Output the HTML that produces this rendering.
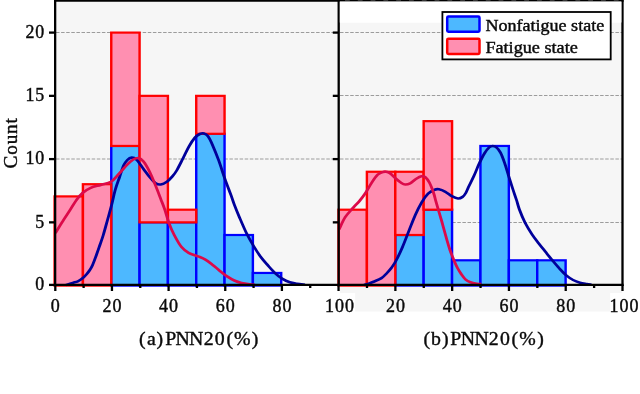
<!DOCTYPE html>
<html lang="en"><head><meta charset="utf-8"><title>PNN20 histograms</title>
<style>
html,body{margin:0;padding:0;background:#fff;}
body{width:640px;height:394px;overflow:hidden;}
svg{display:block;}
text{font-family:"Liberation Serif","DejaVu Serif",serif;fill:#0a0a0a;stroke:#0a0a0a;stroke-width:0.4px;}
</style></head><body>
<svg width="640" height="394" viewBox="0 0 640 394">
<rect x="0" y="0" width="640" height="394" fill="#ffffff"/>
<rect x="55" y="0" width="283.6" height="285" fill="#f6f6f6"/>
<rect x="338.6" y="22.5" width="284" height="262.5" fill="#f6f6f6"/>
<rect x="340" y="285" width="282" height="26.5" fill="#f6f6f6"/>
<line x1="56" x2="338" y1="159.0" y2="159.0" stroke="#9c9c9c" stroke-width="1" stroke-dasharray="3.5 1.6"/>
<line x1="56" x2="338" y1="32.5" y2="32.5" stroke="#9c9c9c" stroke-width="1" stroke-dasharray="3.5 1.6"/>
<line x1="340" x2="622" y1="222.5" y2="222.5" stroke="#9c9c9c" stroke-width="1" stroke-dasharray="3.5 1.6"/>
<line x1="340" x2="622" y1="159.0" y2="159.0" stroke="#9c9c9c" stroke-width="1" stroke-dasharray="3.5 1.6"/>
<line x1="340" x2="622" y1="95.5" y2="95.5" stroke="#9c9c9c" stroke-width="1" stroke-dasharray="3.5 1.6"/>
<line x1="340" x2="622" y1="32.5" y2="32.5" stroke="#9c9c9c" stroke-width="1" stroke-dasharray="3.5 1.6"/>
<g transform="scale(1.1 1)" stroke-width="2.2">
<rect x="101.14" y="145.95" width="25.75" height="139.65" fill="#4db8ff" stroke="#0000ff"/>
<rect x="126.89" y="222.35" width="25.75" height="63.25" fill="#4db8ff" stroke="#0000ff"/>
<rect x="152.64" y="222.35" width="25.75" height="63.25" fill="#4db8ff" stroke="#0000ff"/>
<rect x="178.39" y="133.80" width="25.75" height="151.80" fill="#4db8ff" stroke="#0000ff"/>
<rect x="204.14" y="235.00" width="25.75" height="50.60" fill="#4db8ff" stroke="#0000ff"/>
<rect x="229.89" y="272.95" width="25.75" height="12.65" fill="#4db8ff" stroke="#0000ff"/>
<rect x="49.64" y="196.40" width="25.75" height="89.20" fill="#ff8fb1" stroke="#ff0000"/>
<rect x="75.39" y="184.20" width="25.75" height="101.40" fill="#ff8fb1" stroke="#ff0000"/>
<rect x="101.14" y="32.60" width="25.75" height="113.35" fill="#ff8fb1" stroke="#ff0000"/>
<rect x="126.89" y="95.85" width="25.75" height="126.50" fill="#ff8fb1" stroke="#ff0000"/>
<rect x="152.64" y="209.70" width="25.75" height="12.65" fill="#ff8fb1" stroke="#ff0000"/>
<rect x="178.39" y="95.85" width="25.75" height="37.95" fill="#ff8fb1" stroke="#ff0000"/>
</g>
<g transform="scale(1.1 1)" stroke-width="2.2">
<rect x="359.35" y="235.00" width="25.81" height="50.60" fill="#4db8ff" stroke="#0000ff"/>
<rect x="385.15" y="209.70" width="25.81" height="75.90" fill="#4db8ff" stroke="#0000ff"/>
<rect x="410.96" y="260.30" width="25.81" height="25.30" fill="#4db8ff" stroke="#0000ff"/>
<rect x="436.77" y="145.95" width="25.81" height="139.65" fill="#4db8ff" stroke="#0000ff"/>
<rect x="462.58" y="260.30" width="25.81" height="25.30" fill="#4db8ff" stroke="#0000ff"/>
<rect x="488.39" y="260.30" width="25.81" height="25.30" fill="#4db8ff" stroke="#0000ff"/>
<rect x="307.73" y="209.70" width="25.81" height="75.90" fill="#ff8fb1" stroke="#ff0000"/>
<rect x="333.54" y="171.75" width="25.81" height="113.85" fill="#ff8fb1" stroke="#ff0000"/>
<rect x="359.35" y="171.75" width="25.81" height="63.25" fill="#ff8fb1" stroke="#ff0000"/>
<rect x="385.15" y="121.15" width="25.81" height="88.55" fill="#ff8fb1" stroke="#ff0000"/>
</g>
<path transform="scale(1.1 1)" d="M60.00 285.00C60.61 284.78 62.53 284.08 63.64 283.70C64.74 283.32 65.45 283.10 66.64 282.70C67.82 282.30 69.38 281.98 70.73 281.30C72.08 280.62 73.39 279.78 74.73 278.60C76.06 277.42 77.58 275.63 78.73 274.20C79.88 272.77 80.73 271.53 81.64 270.00C82.55 268.47 83.18 267.50 84.18 265.00C85.18 262.50 86.53 258.33 87.64 255.00C88.74 251.67 89.77 248.33 90.82 245.00C91.86 241.67 92.76 239.17 93.91 235.00C95.06 230.83 96.47 225.00 97.73 220.00C98.98 215.00 100.29 210.00 101.45 205.00C102.62 200.00 103.52 194.67 104.73 190.00C105.94 185.33 107.45 181.07 108.73 177.00C110.00 172.93 111.20 168.43 112.36 165.60C113.53 162.77 114.52 161.33 115.73 160.00C116.94 158.67 118.24 157.67 119.64 157.60C121.03 157.53 122.29 157.72 124.09 159.60C125.89 161.48 128.47 166.02 130.45 168.90C132.44 171.78 134.15 174.50 136.00 176.90C137.85 179.30 139.85 182.03 141.55 183.30C143.24 184.57 144.48 184.75 146.18 184.50C147.88 184.25 149.97 183.15 151.73 181.80C153.48 180.45 155.24 178.28 156.73 176.40C158.21 174.52 159.06 173.43 160.64 170.50C162.21 167.57 164.33 162.78 166.18 158.80C168.03 154.82 169.89 150.13 171.73 146.60C173.56 143.07 175.53 139.70 177.18 137.60C178.83 135.50 180.26 134.70 181.64 134.00C183.02 133.30 184.21 133.02 185.45 133.40C186.70 133.78 187.77 134.30 189.09 136.30C190.41 138.30 191.73 141.33 193.36 145.40C195.00 149.47 197.06 155.12 198.91 160.70C200.76 166.28 202.61 173.15 204.45 178.90C206.30 184.65 208.58 190.92 210.00 195.20C211.42 199.48 211.76 201.02 213.00 204.60C214.24 208.18 215.62 211.97 217.45 216.70C219.29 221.43 221.82 228.12 224.00 233.00C226.18 237.88 228.36 242.00 230.55 246.00C232.73 250.00 234.89 253.73 237.09 257.00C239.29 260.27 241.53 262.88 243.73 265.60C245.92 268.32 248.09 271.08 250.27 273.30C252.45 275.52 254.62 277.40 256.82 278.90C259.02 280.40 261.26 281.48 263.45 282.30C265.65 283.12 267.70 283.38 270.00 283.80C272.30 284.22 276.06 284.63 277.27 284.80" fill="none" stroke="#00009b" stroke-width="2.6" stroke-linecap="butt" stroke-linejoin="round"/>
<path transform="scale(1.1 1)" d="M50.45 233.00C51.44 231.22 54.12 226.20 56.36 222.30C58.61 218.40 61.73 213.30 63.91 209.60C66.09 205.90 67.61 202.87 69.45 200.10C71.30 197.33 72.83 195.03 75.00 193.00C77.17 190.97 79.68 189.25 82.45 187.90C85.23 186.55 88.56 185.92 91.64 184.90C94.71 183.88 98.14 183.67 100.91 181.80C103.68 179.93 105.82 176.57 108.27 173.70C110.73 170.83 113.48 166.97 115.64 164.60C117.79 162.23 119.48 160.60 121.18 159.50C122.88 158.40 124.27 157.67 125.82 158.00C127.36 158.33 128.76 159.22 130.45 161.50C132.15 163.78 134.15 167.63 136.00 171.70C137.85 175.77 139.85 181.33 141.55 185.90C143.24 190.47 144.82 195.18 146.18 199.10C147.55 203.02 148.44 205.27 149.73 209.40C151.02 213.53 152.48 219.67 153.91 223.90C155.33 228.13 156.45 230.98 158.27 234.80C160.09 238.62 162.62 243.80 164.82 246.80C167.02 249.80 168.89 251.20 171.45 252.80C174.02 254.40 177.64 255.27 180.18 256.40C182.73 257.53 184.53 258.18 186.73 259.60C188.92 261.02 191.17 263.02 193.36 264.90C195.56 266.78 197.73 268.98 199.91 270.90C202.09 272.82 204.27 274.80 206.45 276.40C208.64 278.00 210.80 279.40 213.00 280.50C215.20 281.60 217.26 282.35 219.64 283.00C222.02 283.65 225.24 284.10 227.27 284.40C229.30 284.70 231.06 284.73 231.82 284.80" fill="none" stroke="#dc0a4a" stroke-width="2.6" stroke-linecap="butt" stroke-linejoin="round"/>
<path transform="scale(1.1 1)" d="M330.91 285.00C331.59 284.77 333.55 284.15 335.00 283.60C336.45 283.05 337.67 282.62 339.64 281.70C341.61 280.78 344.79 279.55 346.82 278.10C348.85 276.65 350.27 274.77 351.82 273.00C353.36 271.23 354.73 269.53 356.09 267.50C357.45 265.47 358.39 264.13 360.00 260.80C361.61 257.47 363.80 252.40 365.73 247.50C367.65 242.60 369.59 236.78 371.55 231.40C373.50 226.02 375.48 220.05 377.45 215.20C379.42 210.35 381.41 205.90 383.36 202.30C385.32 198.70 387.23 195.70 389.18 193.60C391.14 191.50 393.45 190.42 395.09 189.70C396.73 188.98 397.36 188.95 399.00 189.30C400.64 189.65 402.95 190.65 404.91 191.80C406.86 192.95 408.82 195.08 410.73 196.20C412.64 197.32 414.73 198.38 416.36 198.50C418.00 198.62 419.36 197.82 420.55 196.90C421.73 195.98 422.56 194.65 423.45 193.00C424.35 191.35 424.67 189.87 425.91 187.00C427.15 184.13 429.29 179.70 430.91 175.80C432.53 171.90 434.06 167.32 435.64 163.60C437.21 159.88 438.85 156.20 440.36 153.50C441.88 150.80 443.45 148.65 444.73 147.40C446.00 146.15 446.91 146.00 448.00 146.00C449.09 146.00 450.11 146.30 451.27 147.40C452.44 148.50 453.77 150.07 455.00 152.60C456.23 155.13 457.41 158.73 458.64 162.60C459.86 166.47 461.11 171.40 462.36 175.80C463.62 180.20 464.98 184.97 466.18 189.00C467.38 193.03 468.55 196.58 469.55 200.00C470.55 203.42 470.88 205.70 472.18 209.50C473.48 213.30 475.45 218.67 477.36 222.80C479.27 226.93 481.56 230.87 483.64 234.30C485.71 237.73 487.74 240.43 489.82 243.40C491.89 246.37 494.02 249.25 496.09 252.10C498.17 254.95 500.20 257.77 502.27 260.50C504.35 263.23 506.45 266.02 508.55 268.50C510.64 270.98 512.74 273.48 514.82 275.40C516.89 277.32 518.92 278.78 521.00 280.00C523.08 281.22 525.20 282.03 527.27 282.70C529.35 283.37 531.71 283.67 533.45 284.00C535.20 284.33 537.02 284.58 537.73 284.70" fill="none" stroke="#00009b" stroke-width="2.6" stroke-linecap="butt" stroke-linejoin="round"/>
<path transform="scale(1.1 1)" d="M308.27 229.40C309.20 227.37 311.67 220.83 313.82 217.20C315.97 213.57 319.03 210.28 321.18 207.60C323.33 204.92 324.88 203.53 326.73 201.10C328.58 198.67 330.42 196.05 332.27 193.00C334.12 189.95 335.97 185.85 337.82 182.80C339.67 179.75 341.67 176.48 343.36 174.70C345.06 172.92 346.77 172.60 348.00 172.10C349.23 171.60 349.65 171.53 350.73 171.70C351.80 171.87 352.91 171.92 354.45 173.10C356.00 174.28 358.30 177.18 360.00 178.80C361.70 180.42 363.26 181.85 364.64 182.80C366.02 183.75 366.89 184.42 368.27 184.50C369.65 184.58 371.21 184.25 372.91 183.30C374.61 182.35 376.76 179.97 378.45 178.80C380.15 177.63 381.71 176.57 383.09 176.30C384.47 176.03 385.50 176.12 386.73 177.20C387.95 178.28 389.21 180.17 390.45 182.80C391.70 185.43 393.23 189.97 394.18 193.00C395.14 196.03 395.41 198.00 396.18 201.00C396.95 204.00 397.92 207.63 398.82 211.00C399.71 214.37 400.64 217.70 401.55 221.20C402.45 224.70 403.44 228.70 404.27 232.00C405.11 235.30 405.77 238.08 406.55 241.00C407.32 243.92 408.14 246.97 408.91 249.50C409.68 252.03 410.41 254.03 411.18 256.20C411.95 258.37 412.76 260.53 413.55 262.50C414.33 264.47 414.95 266.08 415.91 268.00C416.86 269.92 418.08 272.10 419.27 274.00C420.47 275.90 421.68 278.02 423.09 279.40C424.50 280.78 426.00 281.58 427.73 282.30C429.45 283.02 431.82 283.42 433.45 283.70C435.09 283.98 436.86 283.95 437.55 284.00" fill="none" stroke="#dc0a4a" stroke-width="2.6" stroke-linecap="butt" stroke-linejoin="round"/>
<g stroke="#000" stroke-width="2.3" fill="none">
<line x1="54.1" x2="623.6" y1="284.9" y2="284.9"/>
<line x1="54.1" x2="623.6" y1="0.5" y2="0.5"/>
<line x1="55.15" x2="55.15" y1="0" y2="286"/>
<line x1="338.7" x2="338.7" y1="0" y2="286"/>
<line x1="622.5" x2="622.5" y1="0" y2="286"/>
<line x1="49" x2="54.5" y1="284.90" y2="284.90"/>
<line x1="49" x2="54.5" y1="222.35" y2="222.35"/>
<line x1="332.8" x2="338" y1="222.35" y2="222.35"/>
<line x1="49" x2="54.5" y1="159.10" y2="159.10"/>
<line x1="332.8" x2="338" y1="159.10" y2="159.10"/>
<line x1="49" x2="54.5" y1="95.85" y2="95.85"/>
<line x1="332.8" x2="338" y1="95.85" y2="95.85"/>
<line x1="49" x2="54.5" y1="32.60" y2="32.60"/>
<line x1="332.8" x2="338" y1="32.60" y2="32.60"/>
<line x1="55.30" x2="55.30" y1="285" y2="291"/>
<line x1="83.62" x2="83.62" y1="285" y2="288"/>
<line x1="366.99" x2="366.99" y1="285" y2="288"/>
<line x1="111.95" x2="111.95" y1="285" y2="291"/>
<line x1="395.38" x2="395.38" y1="285" y2="291"/>
<line x1="140.27" x2="140.27" y1="285" y2="288"/>
<line x1="423.77" x2="423.77" y1="285" y2="288"/>
<line x1="168.60" x2="168.60" y1="285" y2="291"/>
<line x1="452.16" x2="452.16" y1="285" y2="291"/>
<line x1="196.93" x2="196.93" y1="285" y2="288"/>
<line x1="480.55" x2="480.55" y1="285" y2="288"/>
<line x1="225.25" x2="225.25" y1="285" y2="291"/>
<line x1="508.94" x2="508.94" y1="285" y2="291"/>
<line x1="253.57" x2="253.57" y1="285" y2="288"/>
<line x1="537.33" x2="537.33" y1="285" y2="288"/>
<line x1="281.90" x2="281.90" y1="285" y2="291"/>
<line x1="565.72" x2="565.72" y1="285" y2="291"/>
<line x1="310.23" x2="310.23" y1="285" y2="288"/>
<line x1="594.11" x2="594.11" y1="285" y2="288"/>
<line x1="338.55" x2="338.55" y1="285" y2="291"/>
<line x1="622.50" x2="622.50" y1="285" y2="291"/>
</g>
<rect x="324" y="293" width="31.2" height="20" fill="#fff"/>
<rect x="610.2" y="293" width="30" height="20" fill="#fff"/>
<text x="44.2" y="290.1" font-size="17.9" text-anchor="end" textLength="9.35" lengthAdjust="spacing">0</text>
<text x="44.2" y="227.6" font-size="17.9" text-anchor="end" textLength="9.35" lengthAdjust="spacing">5</text>
<text x="44.2" y="164.3" font-size="17.9" text-anchor="end" textLength="18.7" lengthAdjust="spacing">10</text>
<text x="44.2" y="101.1" font-size="17.9" text-anchor="end" textLength="18.7" lengthAdjust="spacing">15</text>
<text x="44.2" y="37.8" font-size="17.9" text-anchor="end" textLength="18.7" lengthAdjust="spacing">20</text>
<text x="55.3" y="311.8" font-size="18.0" text-anchor="middle" textLength="9.5" lengthAdjust="spacing">0</text>
<text x="111.9" y="311.8" font-size="18.0" text-anchor="middle" textLength="19.0" lengthAdjust="spacing">20</text>
<text x="395.4" y="311.8" font-size="18.0" text-anchor="middle" textLength="19.0" lengthAdjust="spacing">20</text>
<text x="168.6" y="311.8" font-size="18.0" text-anchor="middle" textLength="19.0" lengthAdjust="spacing">40</text>
<text x="452.2" y="311.8" font-size="18.0" text-anchor="middle" textLength="19.0" lengthAdjust="spacing">40</text>
<text x="225.2" y="311.8" font-size="18.0" text-anchor="middle" textLength="19.0" lengthAdjust="spacing">60</text>
<text x="508.9" y="311.8" font-size="18.0" text-anchor="middle" textLength="19.0" lengthAdjust="spacing">60</text>
<text x="281.9" y="311.8" font-size="18.0" text-anchor="middle" textLength="19.0" lengthAdjust="spacing">80</text>
<text x="565.7" y="311.8" font-size="18.0" text-anchor="middle" textLength="19.0" lengthAdjust="spacing">80</text>
<text x="339.6" y="311.8" font-size="18.0" text-anchor="middle" textLength="29.0" lengthAdjust="spacing">100</text>
<text x="624.0" y="311.8" font-size="18.0" text-anchor="middle" textLength="29.0" lengthAdjust="spacing">100</text>
<text x="139.09 146.89 156.57 165.31 175.59 188.89 203.71 214.75 226.59 233.95 251.72" y="344.5" font-size="19.8">(a)PNN20(%)</text>
<text x="423.39 430.98 442.02 450.31 460.74 474.54 488.71 500.05 511.59 519.35 537.32" y="344.5" font-size="19.8">(b)PNN20(%)</text>
<text transform="translate(17.2 143.3) rotate(-90)" font-size="19.2" text-anchor="middle" textLength="50.5" lengthAdjust="spacing">Count</text>
<line x1="345" x2="621" y1="0.25" y2="0.25" stroke="#8a8a8a" stroke-width="0.5" stroke-dasharray="4.8 8"/>
<rect x="339.8" y="1.5" width="281.6" height="21" fill="#fff"/>
<rect x="442.4" y="12.0" width="168.3" height="47.4" fill="#fff" stroke="#000" stroke-width="1.8"/>
<rect x="447.2" y="16.45" width="32.3" height="15.3" rx="1.2" fill="#4db8ff" stroke="#0000ff" stroke-width="2.5"/>
<rect x="447.2" y="38.75" width="32.3" height="15.3" rx="1.2" fill="#ff8fb1" stroke="#ff0000" stroke-width="2.5"/>
<text x="485.4" y="31.0" font-size="16.2" text-anchor="start" textLength="118.8" lengthAdjust="spacingAndGlyphs">Nonfatigue state</text>
<text x="485.4" y="52.9" font-size="16.2" text-anchor="start" textLength="92.4" lengthAdjust="spacingAndGlyphs">Fatigue state</text>
</svg>
</body></html>
